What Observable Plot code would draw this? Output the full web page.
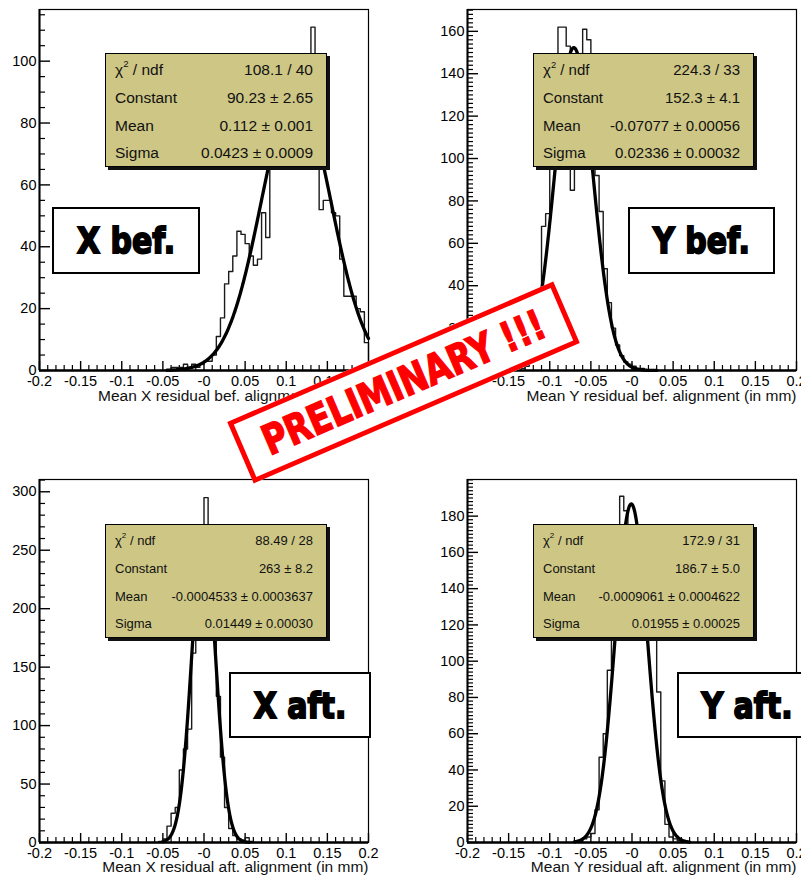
<!DOCTYPE html>
<html>
<head>
<meta charset="utf-8">
<script src="https://cdn.jsdelivr.net/npm/d3@7"></script>
<script src="https://cdn.jsdelivr.net/npm/@observablehq/plot@0.6"></script>
<style>
html, body { margin: 0; padding: 0; background: #fff; }
#root { position: relative; width: 801px; height: 876px; overflow: hidden; font-family: "Liberation Sans", Arial, Helvetica, sans-serif; background: #fff; }
.panel { position: absolute; }
.stat { position: absolute; background: #cdc685; border: 1.5px solid #000; box-shadow: 3px 3px 0 #111; box-sizing: border-box; color: #111; z-index: 2; }
.stat .row { position: absolute; left: 9px; right: 13px; height: 20px; line-height: 20px; display: flex; justify-content: space-between; white-space: nowrap; }
.stat sup { font-size: 0.62em; line-height: 0; position: relative; top: -0.15em; }
.tag { position: absolute; background: #fff; border: 2px solid #000; box-sizing: border-box; display: flex; align-items: center; justify-content: center; z-index: 2; }
.tag span { font-family: "DejaVu Sans", sans-serif; font-weight: bold; font-size: 30px; color: #000; -webkit-text-stroke: 1.6px #000; display: inline-block; transform: scaleY(1.2); white-space: nowrap; }
.stamp { position: absolute; left: 226px; top: 349px; width: 355px; height: 67px; border: 5px solid #f00; background: #fff; box-sizing: border-box; transform: rotate(-23.3deg); display: flex; align-items: center; justify-content: center; z-index: 3; }
.stamp span { font-family: "DejaVu Sans", sans-serif; font-weight: bold; font-size: 33px; color: #f00; -webkit-text-stroke: 1.2px #f00; display: inline-block; transform: scaleY(1.25); white-space: nowrap; letter-spacing: -0.3px; }
</style>
</head>
<body>
<div id="root"></div>
<script>
// ---------- data ----------
const binWidth = 0.005;
const xTickValues = [-0.2, -0.15, -0.1, -0.05, 0, 0.05, 0.1, 0.15, 0.2];
const xTickLabels = ["-0.2", "-0.15", "-0.1", "-0.05", "-0", "0.05", "0.1", "0.15", "0.2"];

// X before alignment: bins of width 0.005 starting at first edge
const xBefFirstEdge = -0.04;
const xBefCounts = [1, 1, 1, 2, 1, 2, 1, 2,
  3, 3, 5, 11, 17, 28, 32, 37,
  45, 44, 41, 37, 34, 36, 51, 43,
  70, 76, 82, 86, 89, 92, 95, 93,
  88, 84, 111, 72, 52, 55, 55, 51,
  50, 36, 24, 24, 24, 20, 19, 9];

// Y before alignment
const yBefFirstEdge = -0.135;
const yBefCounts = [1, 2, 5, 14, 38, 68, 74, 120,
  148, 162, 162, 153, 85, 145, 148, 161,
  156, 125, 92, 75, 48, 32, 20, 12,
  7, 4, 3, 2, 1, 1];

// X after alignment
const xAftFirstEdge = -0.055;
const xAftCounts = [1, 3, 14, 25, 30, 62, 80, 97,
  162, 215, 250, 295, 240, 180, 125, 73,
  30, 12, 6, 3, 2, 4, 1];

// Y after alignment
const yAftFirstEdge = -0.065;
const yAftCounts = [1, 2, 3, 5, 18, 47, 60, 95,
  125, 150, 191, 183, 172, 170, 165, 150,
  135, 120, 114, 83, 34, 10, 3, 2, 1];

// Gaussian fit parameters (from the stat boxes)
const fitConstant = [90.23, 152.3, 263, 186.7];
const fitMean = [0.112, -0.07077, -0.0004533, -0.0009061];
const fitSigma = [0.0423, 0.02336, 0.01449, 0.01955];
const fitRange = [[-0.045, 0.2], [-0.13, 0.03], [-0.05, 0.055], [-0.07, 0.07]];

// y axes
const yMax = [116.7, 170.3, 310.5, 200.2];
const yTicksXBef = [0, 20, 40, 60, 80, 100];
const yTicksYBef = [0, 20, 40, 60, 80, 100, 120, 140, 160];
const yTicksXAft = [0, 50, 100, 150, 200, 250, 300];
const yTicksYAft = [0, 20, 40, 60, 80, 100, 120, 140, 160, 180];
const yMinorStep = [5, 2, 10, 2];

const axisTitles = [
  "Mean X residual bef. alignment (in mm)",
  "Mean Y residual bef. alignment (in mm)",
  "Mean X residual aft. alignment (in mm)",
  "Mean Y residual aft. alignment (in mm)"
];
const panelTags = ["X bef.", "Y bef.", "X aft.", "Y aft."];
const statNames = ["χ2 / ndf", "Constant", "Mean", "Sigma"];
const statValuesXBef = ["108.1 / 40", "90.23 ± 2.65", "0.112 ± 0.001", "0.0423 ± 0.0009"];
const statValuesYBef = ["224.3 / 33", "152.3 ± 4.1", "-0.07077 ± 0.00056", "0.02336 ± 0.00032"];
const statValuesXAft = ["88.49 / 28", "263 ± 8.2", "-0.0004533 ± 0.0003637", "0.01449 ± 0.00030"];
const statValuesYAft = ["172.9 / 31", "186.7 ± 5.0", "-0.0009061 ± 0.0004622", "0.01955 ± 0.00025"];
const stampText = "PRELIMINARY !!!";

// ---------- layout ----------
const layout = [
  {left: 0,   top: 0,   width: 400, height: 438, ml: 39, mr: 32, mt: 9,  mb: 68, titleDy: 19, stat: [105, 53, 222, 114], statFont: 15.5, tag: [52, 207, 148, 67]},
  {left: 400, top: 0,   width: 401, height: 438, ml: 67, mr: 5,  mt: 9,  mb: 68, titleDy: 19, stat: [533, 53, 221, 114], statFont: 15, tag: [628, 207, 147, 67]},
  {left: 0,   top: 438, width: 400, height: 438, ml: 39, mr: 32, mt: 41, mb: 34, titleDy: 18, stat: [105, 524, 222, 114], statFont: 13, tag: [229, 672, 142, 66]},
  {left: 400, top: 438, width: 401, height: 438, ml: 67, mr: 5,  mt: 41, mb: 34, titleDy: 18, stat: [533, 524, 221, 114], statFont: 13, tag: [677, 672, 140, 66]}
];

const firstEdges = [xBefFirstEdge, yBefFirstEdge, xAftFirstEdge, yAftFirstEdge];
const countsList = [xBefCounts, yBefCounts, xAftCounts, yAftCounts];
const yTicksList = [yTicksXBef, yTicksYBef, yTicksXAft, yTicksYAft];
const statValuesList = [statValuesXBef, statValuesYBef, statValuesXAft, statValuesYAft];

const root = document.getElementById("root");

function histPoints(first, counts) {
  const pts = [{x: first, y: 0}];
  counts.forEach((c, i) => pts.push({x: first + i * binWidth, y: c}));
  pts.push({x: first + counts.length * binWidth, y: 0});
  return pts;
}

function fitPoints(k) {
  const [a, b] = fitRange[k];
  const n = 400;
  return d3.range(n + 1).map(i => {
    const x = a + (b - a) * i / n;
    const z = (x - fitMean[k]) / fitSigma[k];
    return {x, y: fitConstant[k] * Math.exp(-0.5 * z * z)};
  });
}

for (let k = 0; k < 4; k++) {
  const L = layout[k];
  const innerW = L.width - L.ml - L.mr;
  const innerH = L.height - L.mt - L.mb;
  const xMinor = d3.range(-20, 21).map(i => i / 100).filter(v => Math.abs(v * 20 - Math.round(v * 20)) > 1e-6);
  const yMinor = d3.range(0, yMax[k], yMinorStep[k]).filter(v => !yTicksList[k].includes(v));

  const chart = Plot.plot({
    width: L.width,
    height: L.height,
    marginLeft: L.ml,
    marginRight: L.mr,
    marginTop: L.mt,
    marginBottom: L.mb,
    style: {fontFamily: "'Liberation Sans', Arial, sans-serif", fontSize: "14px", background: "transparent", overflow: "visible"},
    x: {domain: [-0.2, 0.2]},
    y: {domain: [0, yMax[k]]},
    marks: [
      Plot.ruleX(xMinor, {x: d => d, insetTop: innerH - 5, stroke: "#000", strokeWidth: 1.2}),
      Plot.ruleX(xTickValues, {x: d => d, insetTop: innerH - 9, stroke: "#000", strokeWidth: 1.4}),
      Plot.ruleY(yMinor, {y: d => d, insetRight: innerW - 6, stroke: "#000", strokeWidth: 1.2}),
      Plot.ruleY(yTicksList[k], {y: d => d, insetRight: innerW - 11, stroke: "#000", strokeWidth: 1.4}),
      Plot.line(histPoints(firstEdges[k], countsList[k]), {x: "x", y: "y", curve: "step-after", stroke: "#1a1a1a", strokeWidth: 1.4}),
      Plot.line(fitPoints(k), {x: "x", y: "y", stroke: "#000", strokeWidth: 3.3}),
      Plot.frame({stroke: "#000", strokeWidth: 1.2}),
      Plot.ruleY([0], {stroke: "#000", strokeWidth: 2.4}),
      Plot.ruleX([-0.2], {stroke: "#000", strokeWidth: 2}),
      Plot.axisX({ticks: xTickValues, tickSize: 0, tickPadding: 5, label: null, fontSize: 14.5, fill: "#000",
        tickFormat: d => xTickLabels[xTickValues.findIndex(t => Math.abs(t - d) < 1e-9)]}),
      Plot.axisY({ticks: yTicksList[k], tickSize: 0, tickPadding: 3, label: null, fontSize: 14.5, fill: "#000", tickFormat: d => String(d)}),
      Plot.text([axisTitles[k]], {frameAnchor: "bottom-right", dy: L.titleDy, lineAnchor: "top", textAnchor: "end", fontSize: 15.5, fill: "#111"})
    ]
  });
  chart.classList.add("panel");
  chart.style.left = L.left + "px";
  chart.style.top = L.top + "px";
  root.appendChild(chart);

  // stat box
  const [sl, st, sw, sh] = L.stat;
  const box = document.createElement("div");
  box.className = "stat";
  Object.assign(box.style, {left: sl + "px", top: st + "px", width: sw + "px", height: sh + "px", fontSize: L.statFont + "px"});
  const rowCenters = [16, 44, 72, 99];
  statNames.forEach((name, i) => {
    const row = document.createElement("div");
    row.className = "row";
    row.style.top = (rowCenters[i] - 10) + "px";
    const a = document.createElement("span");
    if (i === 0) { a.innerHTML = "χ<sup>2</sup> / ndf"; } else { a.textContent = name; }
    const b = document.createElement("span");
    b.textContent = statValuesList[k][i];
    row.appendChild(a); row.appendChild(b);
    box.appendChild(row);
  });
  root.appendChild(box);

  // tag box
  const [tl, tt, tw, th] = L.tag;
  const tag = document.createElement("div");
  tag.className = "tag";
  Object.assign(tag.style, {left: tl + "px", top: tt + "px", width: tw + "px", height: th + "px"});
  const ts = document.createElement("span");
  ts.textContent = panelTags[k];
  tag.appendChild(ts);
  root.appendChild(tag);
}

const stamp = document.createElement("div");
stamp.className = "stamp";
const ss = document.createElement("span");
ss.textContent = stampText;
stamp.appendChild(ss);
root.appendChild(stamp);
</script>
</body>
</html>
